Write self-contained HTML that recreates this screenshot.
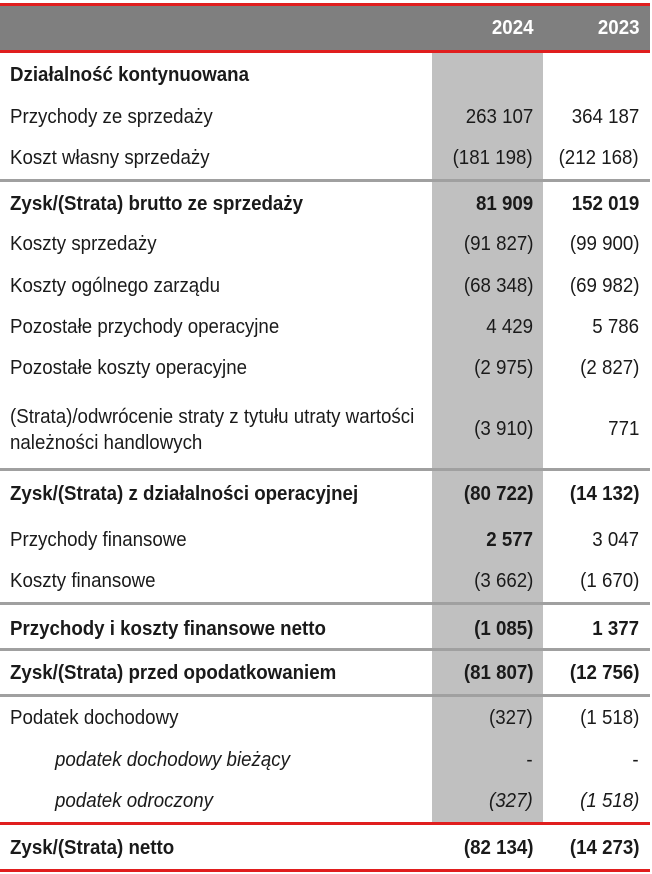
<!DOCTYPE html>
<html><head><meta charset="utf-8"><style>
body{margin:0;width:652px;height:874px;background:#fff;position:relative;overflow:hidden;font-family:"Liberation Sans",Arial,sans-serif;font-size:20px;color:#1a1a1a}
div{position:absolute}
.t{left:10px;white-space:nowrap;line-height:20px;transform:scaleX(0.935);transform-origin:left center}
.a{right:119px;text-align:right;white-space:nowrap;line-height:20px;transform:scaleX(0.935);transform-origin:right center}
.b{right:13px;text-align:right;white-space:nowrap;line-height:20px;transform:scaleX(0.935);transform-origin:right center}
.bold{font-weight:bold}
.it{font-style:italic}
.sep{left:0;width:650px;height:3px;background:#a0a0a0}
.red{left:0;width:650px;height:3px;background:#e01e1e}
</style></head><body>
<div class="red" style="top:3px"></div>
<div style="left:0;top:6px;width:650px;height:44px;background:#7f7f7f"></div>
<div class="red" style="top:50px"></div>
<div style="left:432px;top:53px;width:111px;height:769px;background:#c0c0c0"></div>
<div class="a bold" style="top:18px;color:#fff">2024</div>
<div class="b bold" style="top:18px;color:#fff">2023</div>

<div class="t bold" style="top:65px">Działalność kontynuowana</div>
<div class="t" style="top:107px">Przychody ze sprzedaży</div><div class="a" style="top:107px">263 107</div><div class="b" style="top:107px">364 187</div>
<div class="t" style="top:148px">Koszt własny sprzedaży</div><div class="a" style="top:148px">(181 198)</div><div class="b" style="top:148px">(212 168)</div>
<div class="sep" style="top:179px"></div>
<div class="t bold" style="top:194px">Zysk/(Strata) brutto ze sprzedaży</div><div class="a bold" style="top:194px">81 909</div><div class="b bold" style="top:194px">152 019</div>
<div class="t" style="top:234px">Koszty sprzedaży</div><div class="a" style="top:234px">(91 827)</div><div class="b" style="top:234px">(99 900)</div>
<div class="t" style="top:276px">Koszty ogólnego zarządu</div><div class="a" style="top:276px">(68 348)</div><div class="b" style="top:276px">(69 982)</div>
<div class="t" style="top:317px">Pozostałe przychody operacyjne</div><div class="a" style="top:317px">4 429</div><div class="b" style="top:317px">5 786</div>
<div class="t" style="top:358px">Pozostałe koszty operacyjne</div><div class="a" style="top:358px">(2 975)</div><div class="b" style="top:358px">(2 827)</div>
<div class="t" style="top:404px;line-height:26px">(Strata)/odwrócenie straty z tytułu utraty wartości<br>należności handlowych</div><div class="a" style="top:419px">(3 910)</div><div class="b" style="top:419px">771</div>
<div class="sep" style="top:468px"></div>
<div class="t bold" style="top:484px">Zysk/(Strata) z działalności operacyjnej</div><div class="a bold" style="top:484px">(80 722)</div><div class="b bold" style="top:484px">(14 132)</div>
<div class="t" style="top:530px">Przychody finansowe</div><div class="a bold" style="top:530px">2 577</div><div class="b" style="top:530px">3 047</div>
<div class="t" style="top:571px">Koszty finansowe</div><div class="a" style="top:571px">(3 662)</div><div class="b" style="top:571px">(1 670)</div>
<div class="sep" style="top:602px"></div>
<div class="t bold" style="top:619px">Przychody i koszty finansowe netto</div><div class="a bold" style="top:619px">(1 085)</div><div class="b bold" style="top:619px">1 377</div>
<div class="sep" style="top:648px"></div>
<div class="t bold" style="top:663px">Zysk/(Strata) przed opodatkowaniem</div><div class="a bold" style="top:663px">(81 807)</div><div class="b bold" style="top:663px">(12 756)</div>
<div class="sep" style="top:694px"></div>
<div class="t" style="top:708px">Podatek dochodowy</div><div class="a" style="top:708px">(327)</div><div class="b" style="top:708px">(1 518)</div>
<div class="t it" style="top:750px;left:55px">podatek dochodowy bieżący</div><div class="a" style="top:750px">-</div><div class="b" style="top:750px">-</div>
<div class="t it" style="top:791px;left:55px">podatek odroczony</div><div class="a it" style="top:791px">(327)</div><div class="b it" style="top:791px">(1 518)</div>
<div class="red" style="top:822px"></div>
<div class="t bold" style="top:838px">Zysk/(Strata) netto</div><div class="a bold" style="top:838px">(82 134)</div><div class="b bold" style="top:838px">(14 273)</div>
<div class="red" style="top:869px"></div>
</body></html>
